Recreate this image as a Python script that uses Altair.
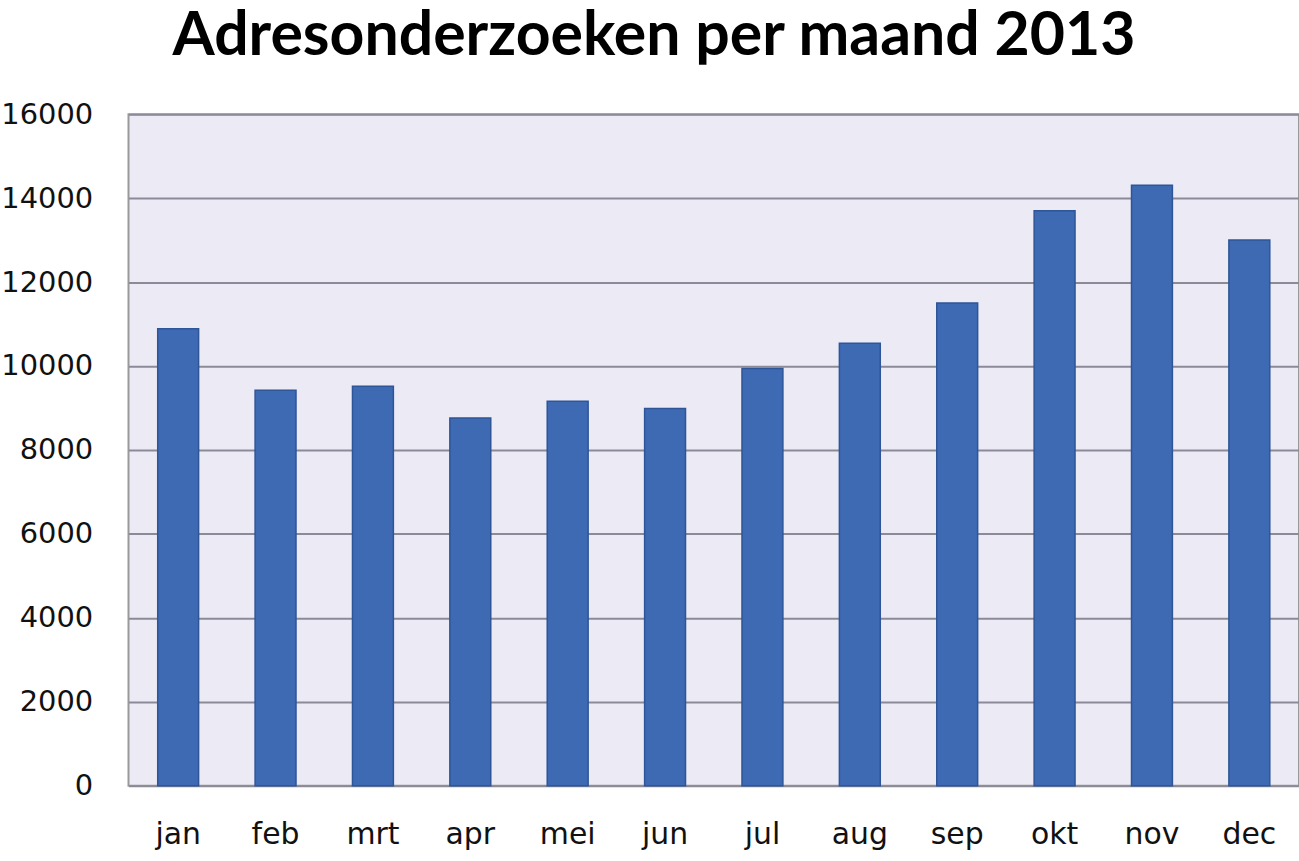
import altair as alt
import pandas as pd

months = ["jan", "feb", "mrt", "apr", "mei", "jun", "jul", "aug", "sep", "okt", "nov", "dec"]
values = [10890, 9420, 9520, 8760, 9160, 8990, 9940, 10540, 11500, 13700, 14310, 13000]
y_ticks = [0, 2000, 4000, 6000, 8000, 10000, 12000, 14000, 16000]

df = pd.DataFrame({"maand": months, "aantal": values})

chart = alt.Chart(df).mark_bar(
    color="#3D6AB3", stroke="#2E5598", strokeWidth=1.5
).encode(
    x=alt.X("maand:N", sort=months, title=None,
            scale=alt.Scale(paddingInner=0.58, paddingOuter=0.3),
            axis=alt.Axis(labelAngle=0, labelFont="DejaVu Sans", labelFontSize=30,
                          labelColor="#111111", ticks=False, domain=False,
                          labelPadding=34)),
    y=alt.Y("aantal:Q", title=None,
            scale=alt.Scale(domain=[0, 16000], nice=False),
            axis=alt.Axis(values=y_ticks, format="d", labelFont="DejaVu Sans",
                          labelFontSize=29, labelColor="#111111", ticks=False,
                          domain=False, labelPadding=36,
                          gridColor="#8A8A98", gridWidth=2)),
).properties(
    width=1175,
    height=674,
    title=alt.TitleParams("Adresonderzoeken per maand 2013", font="Lato",
                          fontSize=61, fontWeight="bold", color="#000000",
                          anchor="middle", dx=-60, offset=32),
    padding={"left": 129, "top": 113, "right": 0, "bottom": 74},
    autosize=alt.AutoSizeParams(type="none"),
    background="#FFFFFF",
).configure_view(
    fill="#ECEBF5", stroke="#999999", strokeWidth=2
)

chart.save("out.html", embed_options={"renderer": "svg", "actions": False})
